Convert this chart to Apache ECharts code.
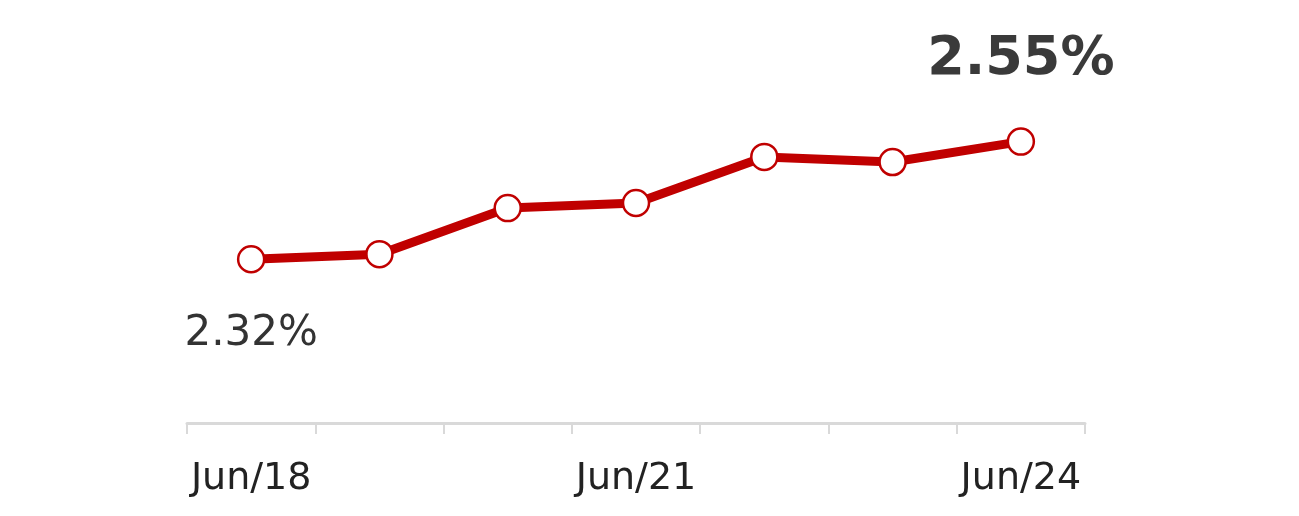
<!DOCTYPE html>
<html>
<head>
<meta charset="utf-8">
<script src="https://cdn.jsdelivr.net/npm/echarts@6/dist/echarts.min.js"></script>
<style>
  html, body { margin: 0; padding: 0; background: #fff; }
  #chart { width: 1299px; height: 516px; }
</style>
</head>
<body>
<div id="chart"></div>
<script>
var categories = ['Jun/18', 'Jun/19', 'Jun/20', 'Jun/21', 'Jun/22', 'Jun/23', 'Jun/24'];
var values = [2.32, 2.33, 2.42, 2.43, 2.52, 2.51, 2.55];

var chart = echarts.init(document.getElementById('chart'));

var seriesData = values.map(function (v, i) {
  var item = { value: v };
  if (i === 0) {
    item.label = {
      show: true, position: 'bottom', distance: 40,
      fontSize: 42, color: '#333', fontFamily: 'DejaVu Sans',
      formatter: function (p) { return p.value.toFixed(2) + '%'; }
    };
  }
  if (i === values.length - 1) {
    item.label = {
      show: true, position: 'top', distance: 40,
      fontSize: 54, fontWeight: 'bold', color: '#3a3a3a', fontFamily: 'DejaVu Sans',
      formatter: function (p) { return p.value.toFixed(2) + '%'; }
    };
  }
  return item;
});

var option = {
  animation: false,
  grid: { left: 187, right: 214, top: 116, bottom: 93 },
  xAxis: {
    type: 'category',
    data: categories,
    boundaryGap: true,
    axisLine: { lineStyle: { color: '#d9d9d9', width: 3 } },
    axisTick: { show: true, interval: 0, length: 11, lineStyle: { color: '#d9d9d9', width: 2 } },
    axisLabel: {
      interval: 2, margin: 37, fontSize: 38, color: '#222', fontFamily: 'DejaVu Sans'
    }
  },
  yAxis: {
    type: 'value', min: 2.0, max: 2.6, show: false, splitLine: { show: false }
  },
  series: [{
    type: 'line',
    data: seriesData,
    symbol: 'circle',
    symbolSize: 26,
    lineStyle: { color: '#c00000', width: 9 },
    itemStyle: { color: '#fff', borderColor: '#c00000', borderWidth: 2.5 }
  }]
};

chart.setOption(option);
</script>
</body>
</html>
